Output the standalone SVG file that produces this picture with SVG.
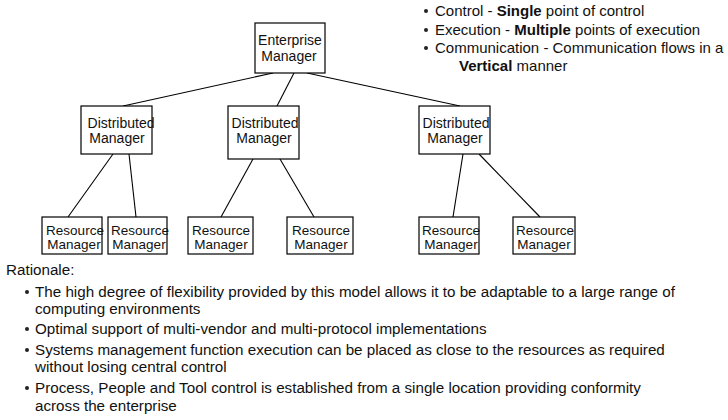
<svg xmlns="http://www.w3.org/2000/svg" width="728" height="420" viewBox="0 0 728 420">
<style>
.box{fill:#fff;stroke:#000;stroke-width:1.2}
.nt{font-family:"Liberation Sans",Arial,sans-serif;font-size:14px;fill:#111;text-anchor:middle}
.rt{font-size:13.5px}
.t{font-family:"Liberation Sans",Arial,sans-serif;font-size:15px;fill:#111}
.r{font-size:15.2px}
.b{font-weight:bold}
.con line{stroke:#000;stroke-width:1.1}
.dot{fill:#222}
</style>
<rect width="728" height="420" fill="#fff"/>
<g id="connectors" class="con">
<line x1="273" y1="73" x2="123" y2="106"/>
<line x1="294" y1="73" x2="277" y2="106"/>
<line x1="307" y1="73" x2="460" y2="106"/>
<line x1="113" y1="154" x2="68" y2="217"/>
<line x1="129" y1="154" x2="136" y2="217"/>
<line x1="253" y1="159" x2="221" y2="217"/>
<line x1="280" y1="159" x2="314" y2="217"/>
<line x1="463" y1="154" x2="453" y2="217"/>
<line x1="479" y1="154" x2="540" y2="217"/>
</g>
<g id="enterprise-manager">
<rect class="box" x="255" y="23" width="70" height="50"/>
<text class="nt" x="290" y="45">Enterprise</text>
<text class="nt" x="289" y="61">Manager</text>
</g>
<g id="distributed-manager-1">
<rect class="box" x="81" y="106" width="71" height="48"/>
<text class="nt" x="121" y="128">Distributed</text>
<text class="nt" x="117" y="143">Manager</text>
</g>
<g id="distributed-manager-2">
<rect class="box" x="228" y="106" width="71" height="53"/>
<text class="nt" x="265" y="128">Distributed</text>
<text class="nt" x="264" y="143">Manager</text>
</g>
<g id="distributed-manager-3">
<rect class="box" x="419" y="106" width="71" height="48"/>
<text class="nt" x="456" y="128">Distributed</text>
<text class="nt" x="455" y="143">Manager</text>
</g>
<g id="resource-manager-1">
<rect class="box" x="42" y="217" width="60" height="37"/>
<text class="nt rt" x="75" y="235">Resource</text>
<text class="nt rt" x="74" y="249">Manager</text>
</g>
<g id="resource-manager-2">
<rect class="box" x="108" y="217" width="59" height="37"/>
<text class="nt rt" x="140" y="235">Resource</text>
<text class="nt rt" x="139" y="249">Manager</text>
</g>
<g id="resource-manager-3">
<rect class="box" x="188" y="217" width="65" height="37"/>
<text class="nt rt" x="221" y="235">Resource</text>
<text class="nt rt" x="221" y="249">Manager</text>
</g>
<g id="resource-manager-4">
<rect class="box" x="287" y="217" width="66" height="37"/>
<text class="nt rt" x="321" y="235">Resource</text>
<text class="nt rt" x="321" y="249">Manager</text>
</g>
<g id="resource-manager-5">
<rect class="box" x="419" y="217" width="60" height="37"/>
<text class="nt rt" x="451" y="235">Resource</text>
<text class="nt rt" x="451" y="249">Manager</text>
</g>
<g id="resource-manager-6">
<rect class="box" x="513" y="217" width="62" height="37"/>
<text class="nt rt" x="545" y="235">Resource</text>
<text class="nt rt" x="544" y="249">Manager</text>
</g>
<g id="properties">
<circle class="dot" cx="426" cy="11" r="2"/>
<circle class="dot" cx="426" cy="30" r="2"/>
<circle class="dot" cx="426" cy="48" r="2"/>
<text class="t" x="435" y="16">Control - <tspan class="b">Single</tspan> point of control</text>
<text class="t" x="435" y="35">Execution - <tspan class="b">Multiple</tspan> points of execution</text>
<text class="t" x="435" y="53">Communication - Communication flows in a</text>
<text class="t" x="459" y="71"><tspan class="b">Vertical</tspan> manner</text>
</g>
<g id="rationale">
<text class="t r" x="6" y="275">Rationale:</text>
<circle class="dot" cx="27" cy="292" r="2"/>
<circle class="dot" cx="27" cy="329" r="2"/>
<circle class="dot" cx="27" cy="350" r="2"/>
<circle class="dot" cx="27" cy="388" r="2"/>
<text class="t r" x="35" y="297">The high degree of flexibility provided by this model allows it to be adaptable to a large range of</text>
<text class="t r" x="35" y="314">computing environments</text>
<text class="t r" x="35" y="334">Optimal support of multi-vendor and multi-protocol implementations</text>
<text class="t r" x="35" y="355">Systems management function execution can be placed as close to the resources as required</text>
<text class="t r" x="35" y="372">without losing central control</text>
<text class="t r" x="35" y="393">Process, People and Tool control is established from a single location providing conformity</text>
<text class="t r" x="35" y="411">across the enterprise</text>
</g>
</svg>
